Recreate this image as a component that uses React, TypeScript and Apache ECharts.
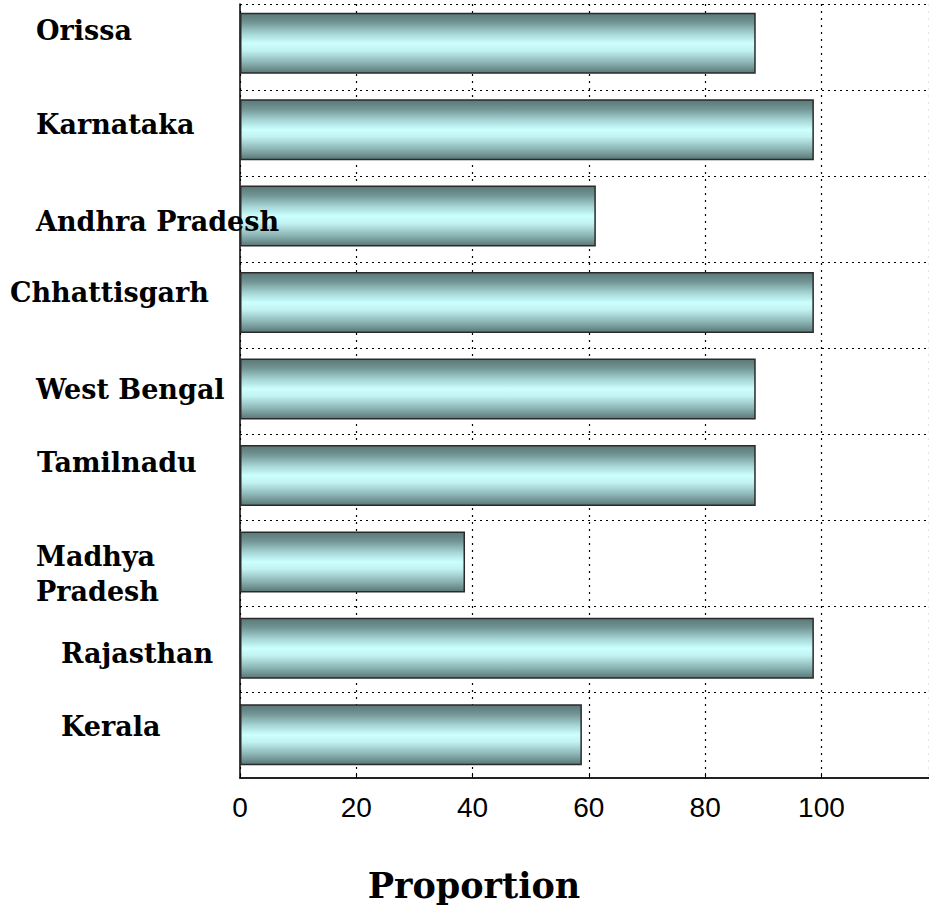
import React, { useEffect, useRef } from "react";
import * as echarts from "echarts";

const categories = [
  "Orissa",
  "Karnataka",
  "Andhra Pradesh",
  "Chhattisgarh",
  "West Bengal",
  "Tamilnadu",
  "Madhya Pradesh",
  "Rajasthan",
  "Kerala",
];
const proportions = [88.7, 98.7, 61.2, 98.7, 88.7, 88.7, 38.7, 98.7, 58.8];
const xTicks = [0, 20, 40, 60, 80, 100];
const axisTitle = "Proportion";

// per-label nudges (style only): [left padding, vertical shift]
const labelNudge: [number, number][] = [
  [26, -13],
  [26, -5],
  [26, 5],
  [0, -10],
  [26, 0],
  [27, -13],
  [26, 12],
  [51, 5],
  [51, -8],
];

export default function App() {
  const ref = useRef<HTMLDivElement>(null);
  useEffect(() => {
    if (!ref.current) return;
    const chart = echarts.init(ref.current, undefined, { renderer: "svg" });
    const serif = "'DejaVu Serif', serif";
    const rich: Record<string, any> = {};
    labelNudge.forEach(([dx, dy], i) => {
      rich["s" + i] = {
        fontFamily: serif,
        fontWeight: "bold",
        fontSize: 27,
        color: "#000",
        lineHeight: 35,
        align: "left",
        padding: [dy > 0 ? 2 * dy : 0, 0, dy < 0 ? -2 * dy : 0, dx],
      };
    });
    const barGradient = new echarts.graphic.LinearGradient(0, 0, 0, 1, [
      { offset: 0, color: "#5a7878" },
      { offset: 0.15, color: "#729494" },
      { offset: 0.35, color: "#a8d8d8" },
      { offset: 0.5, color: "#ccffff" },
      { offset: 0.62, color: "#c2f2f2" },
      { offset: 0.82, color: "#8eb6b6" },
      { offset: 1, color: "#5a7777" },
    ]);
    const xMax = 118.5;
    chart.setOption({
      animation: false,
      backgroundColor: "#fff",
      grid: [
        { left: 240, right: 0, top: 4, height: 774 },
        { left: 240, right: 0, top: 0, height: 778 },
      ],
      xAxis: [
        {
          type: "value",
          gridIndex: 0,
          min: xTicks[0],
          max: xMax,
          interval: xTicks[1] - xTicks[0],
          axisLine: { show: true, lineStyle: { color: "#222", width: 2 } },
          axisTick: { show: true, inside: true, length: 5, lineStyle: { color: "#000" } },
          axisLabel: {
            show: true,
            showMaxLabel: false,
            margin: 15,
            fontFamily: "'Liberation Sans', Arial, sans-serif",
            fontSize: 28,
            color: "#000",
          },
          splitLine: {
            show: true,
            lineStyle: { color: "#000", width: 1.2, type: [2, 5] },
          },
          name: axisTitle,
          nameLocation: "middle",
          nameGap: 90,
          nameTextStyle: {
            fontFamily: serif,
            fontWeight: "bold",
            fontSize: 35,
            color: "#000",
            padding: [0, 221, 0, 0],
          },
        },
        {
          type: "value",
          gridIndex: 1,
          min: xTicks[0],
          max: xMax,
          show: false,
          splitLine: { show: false },
        },
      ],
      yAxis: [
        {
          type: "category",
          gridIndex: 0,
          inverse: true,
          data: categories,
          axisLine: { show: true, lineStyle: { color: "#000", width: 1.5 } },
          axisTick: { show: false },
          axisLabel: { show: false },
          splitLine: {
            show: true,
            lineStyle: { color: "#000", width: 1.2, type: [2, 4] },
          },
        },
        {
          type: "category",
          gridIndex: 1,
          inverse: true,
          data: categories,
          z: 10,
          axisLine: { show: false },
          axisTick: { show: false },
          splitLine: { show: false },
          axisLabel: {
            show: true,
            align: "left",
            margin: 230,
            formatter: (value: string, index: number) => {
              const key = "s" + index;
              if (value === "Madhya Pradesh") return `{${key}|Madhya}\n{${key}|Pradesh}`;
              return `{${key}|${value}}`;
            },
            rich,
          },
        },
      ],
      series: [
        {
          type: "bar",
          xAxisIndex: 1,
          yAxisIndex: 1,
          data: proportions,
          barWidth: 61,
          itemStyle: {
            color: barGradient,
            borderColor: "#2a2a2a",
            borderWidth: 1.5,
          },
          z: 3,
        },
      ],
    });
    return () => chart.dispose();
  }, []);
  return (
    <div
      ref={ref}
      style={{ position: "absolute", left: 0, top: 0, width: 929, height: 915 }}
    />
  );
}
